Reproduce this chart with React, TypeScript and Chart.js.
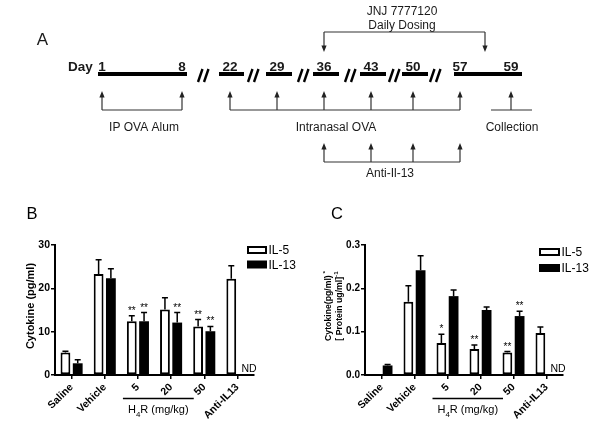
import React, { useEffect, useRef } from 'react';
import { Chart, registerables } from 'chart.js';

Chart.register(...registerables);

const FONT = '"Liberation Sans", Arial, Helvetica, sans-serif';

// ---------------- Panel A: timeline (text / day data) ----------------
const timelineDays = ['1', '8', '22', '29', '36', '43', '50', '57', '59'];
const timelineSegments = [['1', '8'], ['22'], ['29'], ['36'], ['43'], ['50'], ['57', '59']];
const ipOvaDays = ['1', '8'];
const intranasalDays = ['22', '29', '36', '43', '50', '57'];
const antiIl13Days = ['36', '43', '50', '57'];
const collectionDays = ['59'];
const dosingText = ['JNJ 7777120', 'Daily Dosing'];
const procedureNames = ['IP OVA Alum', 'Intranasal OVA', 'Collection', 'Anti-Il-13'];

// ---------------- Panels B / C: bar data ----------------
const categories = ['Saline', 'Vehicle', '5', '20', '50', 'Anti-IL13'];
const seriesNames = ['IL-5', 'IL-13'];

const bIL5 = [5.2, 23.3, 12.4, 15.1, 11.2, 22.2];
const bIL5Err = [0.3, 3.3, 1.3, 2.7, 1.6, 3.0];
const bIL13 = [2.7, 22.3, 12.4, 12.1, 10.1, null];
const bIL13Err = [0.8, 2.2, 2.0, 2.3, 1.1, null];
const bIL5Sig = ['', '', '**', '', '**', ''];
const bIL13Sig = ['', '', '**', '**', '**', ''];

const cIL5 = [0, 0.169, 0.074, 0.060, 0.052, 0.097];
const cIL5Err = [0, 0.037, 0.020, 0.009, 0.002, 0.014];
const cIL13 = [0.022, 0.242, 0.182, 0.150, 0.136, null];
const cIL13Err = [0.002, 0.033, 0.014, 0.007, 0.011, null];
const cIL5Sig = ['', '', '*', '**', '**', ''];
const cIL13Sig = ['', '', '', '', '**', ''];

const doseGroupLabel = [{ t: 'H' }, { t: '4', sub: true }, { t: 'R (mg/kg)' }];

// ---------------- helpers ----------------
type Part = { t: string; sup?: boolean; sub?: boolean };

function drawParts(
  ctx: CanvasRenderingContext2D,
  parts: Part[],
  cx: number,
  cy: number,
  size: number,
  weight = 'normal',
  rotate = false,
  align: 'center' | 'left' = 'center'
) {
  ctx.save();
  ctx.translate(cx, cy);
  if (rotate) ctx.rotate(-Math.PI / 2);
  const small = size * 0.72;
  const fontFor = (p: Part) => `${weight} ${p.sup || p.sub ? small : size}px ${FONT}`;
  let total = 0;
  parts.forEach((p) => {
    ctx.font = fontFor(p);
    total += ctx.measureText(p.t).width;
  });
  let x = align === 'center' ? -total / 2 : 0;
  ctx.textAlign = 'left';
  ctx.textBaseline = 'alphabetic';
  const base = size * 0.36;
  parts.forEach((p) => {
    ctx.font = fontFor(p);
    const dy = p.sup ? -size * 0.42 : p.sub ? size * 0.28 : 0;
    ctx.fillText(p.t, x, base + dy);
    x += ctx.measureText(p.t).width;
  });
  ctx.restore();
}

function arrow(ctx: CanvasRenderingContext2D, x: number, tip: number, base: number) {
  const dir = base > tip ? 1 : -1;
  ctx.beginPath();
  ctx.moveTo(x, base);
  ctx.lineTo(x, tip + dir * 4);
  ctx.stroke();
  ctx.beginPath();
  ctx.moveTo(x, tip);
  ctx.lineTo(x - 2.6, tip + dir * 6.5);
  ctx.lineTo(x + 2.6, tip + dir * 6.5);
  ctx.closePath();
  ctx.fill();
}

// ---------------- Panel A layout ----------------
const A_LAYOUT = {
  letter: { x: 42.5, y: 39 },
  dayWord: { x: 68, y: 66.5 },
  dayX: [102, 182, 230, 277, 324, 371, 413, 460, 511],
  segStartPad: [4, 11, 11, 11, 11, 11, 6],
  segEndPad: [5, 14, 15, 15, 15, 15, 11],
  slashX: [204, 254, 304, 351, 395, 436],
  barY: 74,
  dayY: 66.5,
  upTip: 91,
  upBase: 110,
  labelY: 127,
  labelX: [144, 336, 512],
  collectLine: [491, 532],
  antiTip: 143,
  antiBase: 162,
  antiLabel: { x: 390, y: 173 },
  dosing: { x: 402, y1: 11, y2: 25, lineY: 32, tipY: 52, x1: 324, x2: 485 },
};

const timelinePlugin = {
  id: 'timelineDraw',
  afterDraw(chart: any) {
    const ctx: CanvasRenderingContext2D = chart.ctx;
    const xs = chart.scales.x;
    const ys = chart.scales.y;
    const X = (v: number) => xs.getPixelForValue(v);
    const Y = (v: number) => ys.getPixelForValue(v);
    const L = A_LAYOUT;
    const dx = (d: string) => L.dayX[timelineDays.indexOf(d)];
    ctx.save();
    ctx.fillStyle = '#1a1a1a';
    drawParts(ctx, [{ t: 'A' }], X(L.letter.x), Y(L.letter.y), 17);
    // Day word and labels
    drawParts(ctx, [{ t: 'Day' }], X(L.dayWord.x), Y(L.dayWord.y), 13.5, 'bold', false, 'left');
    timelineDays.forEach((d) => drawParts(ctx, [{ t: d }], X(dx(d)), Y(L.dayY), 13.5, 'bold'));
    // thick bars
    ctx.fillStyle = '#000';
    timelineSegments.forEach((seg, i) => {
      const x0 = X(dx(seg[0]) - L.segStartPad[i]);
      const x1 = X(dx(seg[seg.length - 1]) + L.segEndPad[i]);
      ctx.fillRect(x0, Y(L.barY) - 2, x1 - x0, 4);
    });
    // slashes
    ctx.strokeStyle = '#000';
    ctx.lineWidth = 2.4;
    L.slashX.forEach((sx) => {
      for (let k = 0; k < 2; k++) {
        const x0 = X(sx) - 6 + k * 6;
        ctx.beginPath();
        ctx.moveTo(x0, Y(L.barY + 8));
        ctx.lineTo(x0 + 4.5, Y(L.barY - 5));
        ctx.stroke();
      }
    });
    // arrows
    ctx.strokeStyle = '#333';
    ctx.fillStyle = '#222';
    ctx.lineWidth = 1.2;
    const group = (days: string[], tip: number, base: number, lineFrom?: number, lineTo?: number) => {
      days.forEach((d) => arrow(ctx, X(dx(d)), Y(tip), Y(base)));
      const a = lineFrom ?? dx(days[0]);
      const b = lineTo ?? dx(days[days.length - 1]);
      ctx.beginPath();
      ctx.moveTo(X(a), Y(base));
      ctx.lineTo(X(b), Y(base));
      ctx.stroke();
    };
    group(ipOvaDays, L.upTip, L.upBase);
    group(intranasalDays, L.upTip, L.upBase);
    group(collectionDays, L.upTip, L.upBase, L.collectLine[0], L.collectLine[1]);
    group(antiIl13Days, L.antiTip, L.antiBase);
    // dosing bracket
    const D = L.dosing;
    ctx.beginPath();
    ctx.moveTo(X(D.x1), Y(D.lineY));
    ctx.lineTo(X(D.x2), Y(D.lineY));
    ctx.stroke();
    arrow(ctx, X(D.x1), Y(D.tipY), Y(D.lineY));
    arrow(ctx, X(D.x2), Y(D.tipY), Y(D.lineY));
    // texts
    ctx.fillStyle = '#1a1a1a';
    drawParts(ctx, [{ t: dosingText[0] }], X(D.x), Y(D.y1), 12);
    drawParts(ctx, [{ t: dosingText[1] }], X(D.x), Y(D.y2), 12);
    drawParts(ctx, [{ t: procedureNames[0] }], X(L.labelX[0]), Y(L.labelY), 12);
    drawParts(ctx, [{ t: procedureNames[1] }], X(L.labelX[1]), Y(L.labelY), 12);
    drawParts(ctx, [{ t: procedureNames[2] }], X(L.labelX[2]), Y(L.labelY), 12);
    drawParts(ctx, [{ t: procedureNames[3] }], X(L.antiLabel.x), Y(L.antiLabel.y), 12);
    ctx.restore();
  },
};

function TimelinePanel() {
  const ref = useRef<HTMLCanvasElement>(null);
  useEffect(() => {
    const chart = new Chart(ref.current as HTMLCanvasElement, {
      type: 'scatter',
      data: {
        datasets: [
          {
            data: timelineDays.map((_, i) => ({ x: A_LAYOUT.dayX[i], y: A_LAYOUT.barY })),
            pointRadius: 0,
          },
        ],
      },
      options: {
        animation: false,
        responsive: false,
        devicePixelRatio: 1,
        events: [],
        layout: { padding: 0 },
        plugins: { legend: { display: false }, tooltip: { enabled: false } },
        scales: {
          x: { type: 'linear', min: 0, max: 600, display: false },
          y: { type: 'linear', min: 0, max: 195, reverse: true, display: false },
        },
      } as any,
      plugins: [timelinePlugin],
    } as any);
    return () => chart.destroy();
  }, []);
  return (
    <canvas
      ref={ref}
      width={600}
      height={195}
      style={{ position: 'absolute', left: 0, top: 0, width: 600, height: 195, display: 'block' }}
    />
  );
}

// ---------------- Bar panels ----------------
type Spec = {
  letter: string;
  letterPos: [number, number];
  il5: (number | null)[];
  il5Err: (number | null)[];
  il13: (number | null)[];
  il13Err: (number | null)[];
  il5Sig: string[];
  il13Sig: string[];
  yMax: number;
  yStep: number;
  decimals: number;
  yTickSize: number;
  yAxisW: number;
  padRight: number;
  titleLines: Part[][];
  titleX: number[];
  titleSize: number;
  legend: { x: number; y: number; w: number; h: number; dy: number };
};

const panelB: Spec = {
  letter: 'B',
  letterPos: [32, 18],
  il5: bIL5,
  il5Err: bIL5Err,
  il13: bIL13,
  il13Err: bIL13Err,
  il5Sig: bIL5Sig,
  il13Sig: bIL13Sig,
  yMax: 30,
  yStep: 10,
  decimals: 0,
  yTickSize: 10.5,
  yAxisW: 55,
  padRight: 46,
  titleLines: [[{ t: 'Cytokine (pg/ml)' }]],
  titleX: [30],
  titleSize: 11,
  legend: { x: 247, y: 51, w: 20, h: 8, dy: 14.5 },
};

const panelC: Spec = {
  letter: 'C',
  letterPos: [37, 18],
  il5: cIL5,
  il5Err: cIL5Err,
  il13: cIL13,
  il13Err: cIL13Err,
  il5Sig: cIL5Sig,
  il13Sig: cIL13Sig,
  yMax: 0.3,
  yStep: 0.1,
  decimals: 1,
  yTickSize: 10,
  yAxisW: 65,
  padRight: 37,
  titleLines: [
    [{ t: 'Cytokine(pg/ml)' }, { t: ' *', sup: true }],
    [{ t: '[ Protein ug/ml]' }, { t: '-1', sup: true }],
  ],
  titleX: [28, 38.5],
  titleSize: 8.7,
  legend: { x: 239, y: 53, w: 21, h: 8, dy: 16 },
};

function overlayPlugin(p: Spec) {
  return {
    id: 'overlay' + p.letter,
    afterDraw(chart: any) {
      const ctx: CanvasRenderingContext2D = chart.ctx;
      const xs = chart.scales.x;
      const ys = chart.scales.y;
      const ca = chart.chartArea;
      ctx.save();
      // error bars + significance
      const sets: [(number | null)[], (number | null)[], string[]][] = [
        [p.il5, p.il5Err, p.il5Sig],
        [p.il13, p.il13Err, p.il13Sig],
      ];
      sets.forEach(([vals, errs, sigs], di) => {
        const meta = chart.getDatasetMeta(di);
        vals.forEach((v, i) => {
          if (v == null) return;
          const el = meta.data[i];
          const x = el.x;
          const e = (errs[i] as number) || 0;
          const yBar = ys.getPixelForValue(v);
          const yTop = ys.getPixelForValue(v + e);
          ctx.strokeStyle = '#000';
          ctx.lineWidth = 1.5;
          if (e > 0) {
            ctx.beginPath();
            ctx.moveTo(x, yBar);
            ctx.lineTo(x, yTop);
            ctx.moveTo(x - 3, yTop);
            ctx.lineTo(x + 3, yTop);
            ctx.stroke();
          }
          if (sigs[i]) {
            ctx.fillStyle = '#000';
            ctx.font = `10px ${FONT}`;
            ctx.textAlign = 'center';
            ctx.textBaseline = 'alphabetic';
            ctx.fillText(sigs[i], x, yTop - 2);
          }
        });
      });
      // ND for missing values
      ctx.fillStyle = '#000';
      p.il13.forEach((v, i) => {
        if (v == null) {
          ctx.font = `10.5px ${FONT}`;
          ctx.textAlign = 'left';
          ctx.textBaseline = 'alphabetic';
          ctx.fillText('ND', xs.getPixelForValue(i) + 4, ys.getPixelForValue(0) - 3);
        }
      });
      // panel letter
      drawParts(ctx, [{ t: p.letter }], p.letterPos[0], p.letterPos[1], 16.5);
      // y title
      const cy = (ca.top + ca.bottom) / 2 - 4;
      p.titleLines.forEach((line, k) => drawParts(ctx, line, p.titleX[k], cy, p.titleSize, 'bold', true));
      // dose group line + label
      const gx0 = xs.getPixelForValue(2) - 15;
      const gx1 = xs.getPixelForValue(4) - 10.5;
      const gy = ca.bottom + 23.5;
      ctx.strokeStyle = '#000';
      ctx.lineWidth = 1.5;
      ctx.beginPath();
      ctx.moveTo(gx0, gy);
      ctx.lineTo(gx1, gy);
      ctx.stroke();
      drawParts(ctx, doseGroupLabel, (gx0 + gx1) / 2, gy + 11, 11);
      // legend
      const lg = p.legend;
      seriesNames.forEach((name, k) => {
        const y0 = lg.y + k * lg.dy;
        if (k === 0) {
          ctx.fillStyle = '#fff';
          ctx.fillRect(lg.x, y0, lg.w, lg.h);
          ctx.strokeStyle = '#000';
          ctx.lineWidth = 2;
          ctx.strokeRect(lg.x + 1, y0 + 1, lg.w - 2, lg.h - 2);
        } else {
          ctx.fillStyle = '#000';
          ctx.fillRect(lg.x, y0, lg.w, lg.h);
        }
        ctx.fillStyle = '#000';
        drawParts(ctx, [{ t: name }], lg.x + lg.w + 1.5, y0 + lg.h / 2, 12, 'normal', false, 'left');
      });
      ctx.restore();
    },
  };
}

function BarPanel({ spec, left, top }: { spec: Spec; left: number; top: number }) {
  const ref = useRef<HTMLCanvasElement>(null);
  useEffect(() => {
    const p = spec;
    const chart = new Chart(ref.current as HTMLCanvasElement, {
      type: 'bar',
      data: {
        labels: categories,
        datasets: [
          {
            label: seriesNames[0],
            data: p.il5,
            backgroundColor: '#fff',
            borderColor: '#000',
            borderWidth: 2,
            borderSkipped: false,
          },
          {
            label: seriesNames[1],
            data: p.il13,
            backgroundColor: '#000',
            borderColor: '#000',
            borderWidth: 0,
          },
        ],
      },
      options: {
        animation: false,
        responsive: false,
        devicePixelRatio: 1,
        events: [],
        layout: { padding: { left: 0, right: p.padRight, top: 50, bottom: 0 } },
        datasets: { bar: { categoryPercentage: 0.74, barPercentage: 0.8 } },
        plugins: { legend: { display: false }, tooltip: { enabled: false } },
        scales: {
          x: {
            grid: {
              display: true,
              drawOnChartArea: false,
              offset: false,
              color: '#000',
              lineWidth: 1.5,
              tickLength: 4,
            },
            border: { display: true, color: '#000', width: 2 },
            ticks: {
              color: '#000',
              font: { family: FONT, size: 10.5, weight: 'bold' },
              minRotation: 45,
              maxRotation: 45,
              autoSkip: false,
              padding: 2,
            },
            afterFit: (s: any) => {
              s.height = 55;
            },
          },
          y: {
            min: 0,
            max: p.yMax,
            ticks: {
              stepSize: p.yStep,
              color: '#000',
              font: { family: FONT, size: p.yTickSize, weight: 'bold' },
              padding: 1,
              callback: (v: any) => Number(v).toFixed(p.decimals),
            },
            grid: { drawOnChartArea: false, color: '#000', lineWidth: 1.5, tickLength: 4 },
            border: { color: '#000', width: 2 },
            afterFit: (s: any) => {
              s.width = p.yAxisW;
            },
          },
        },
      } as any,
      plugins: [overlayPlugin(p)],
    } as any);
    return () => chart.destroy();
  }, [spec]);
  return (
    <canvas
      ref={ref}
      width={300}
      height={235}
      style={{ position: 'absolute', left, top, width: 300, height: 235, display: 'block' }}
    />
  );
}

export default function App() {
  return (
    <div
      style={{
        position: 'fixed',
        left: 0,
        top: 0,
        width: 600,
        height: 430,
        background: '#fff',
        overflow: 'hidden',
      }}
    >
      <TimelinePanel />
      <BarPanel spec={panelB} left={0} top={195} />
      <BarPanel spec={panelC} left={300} top={195} />
    </div>
  );
}
